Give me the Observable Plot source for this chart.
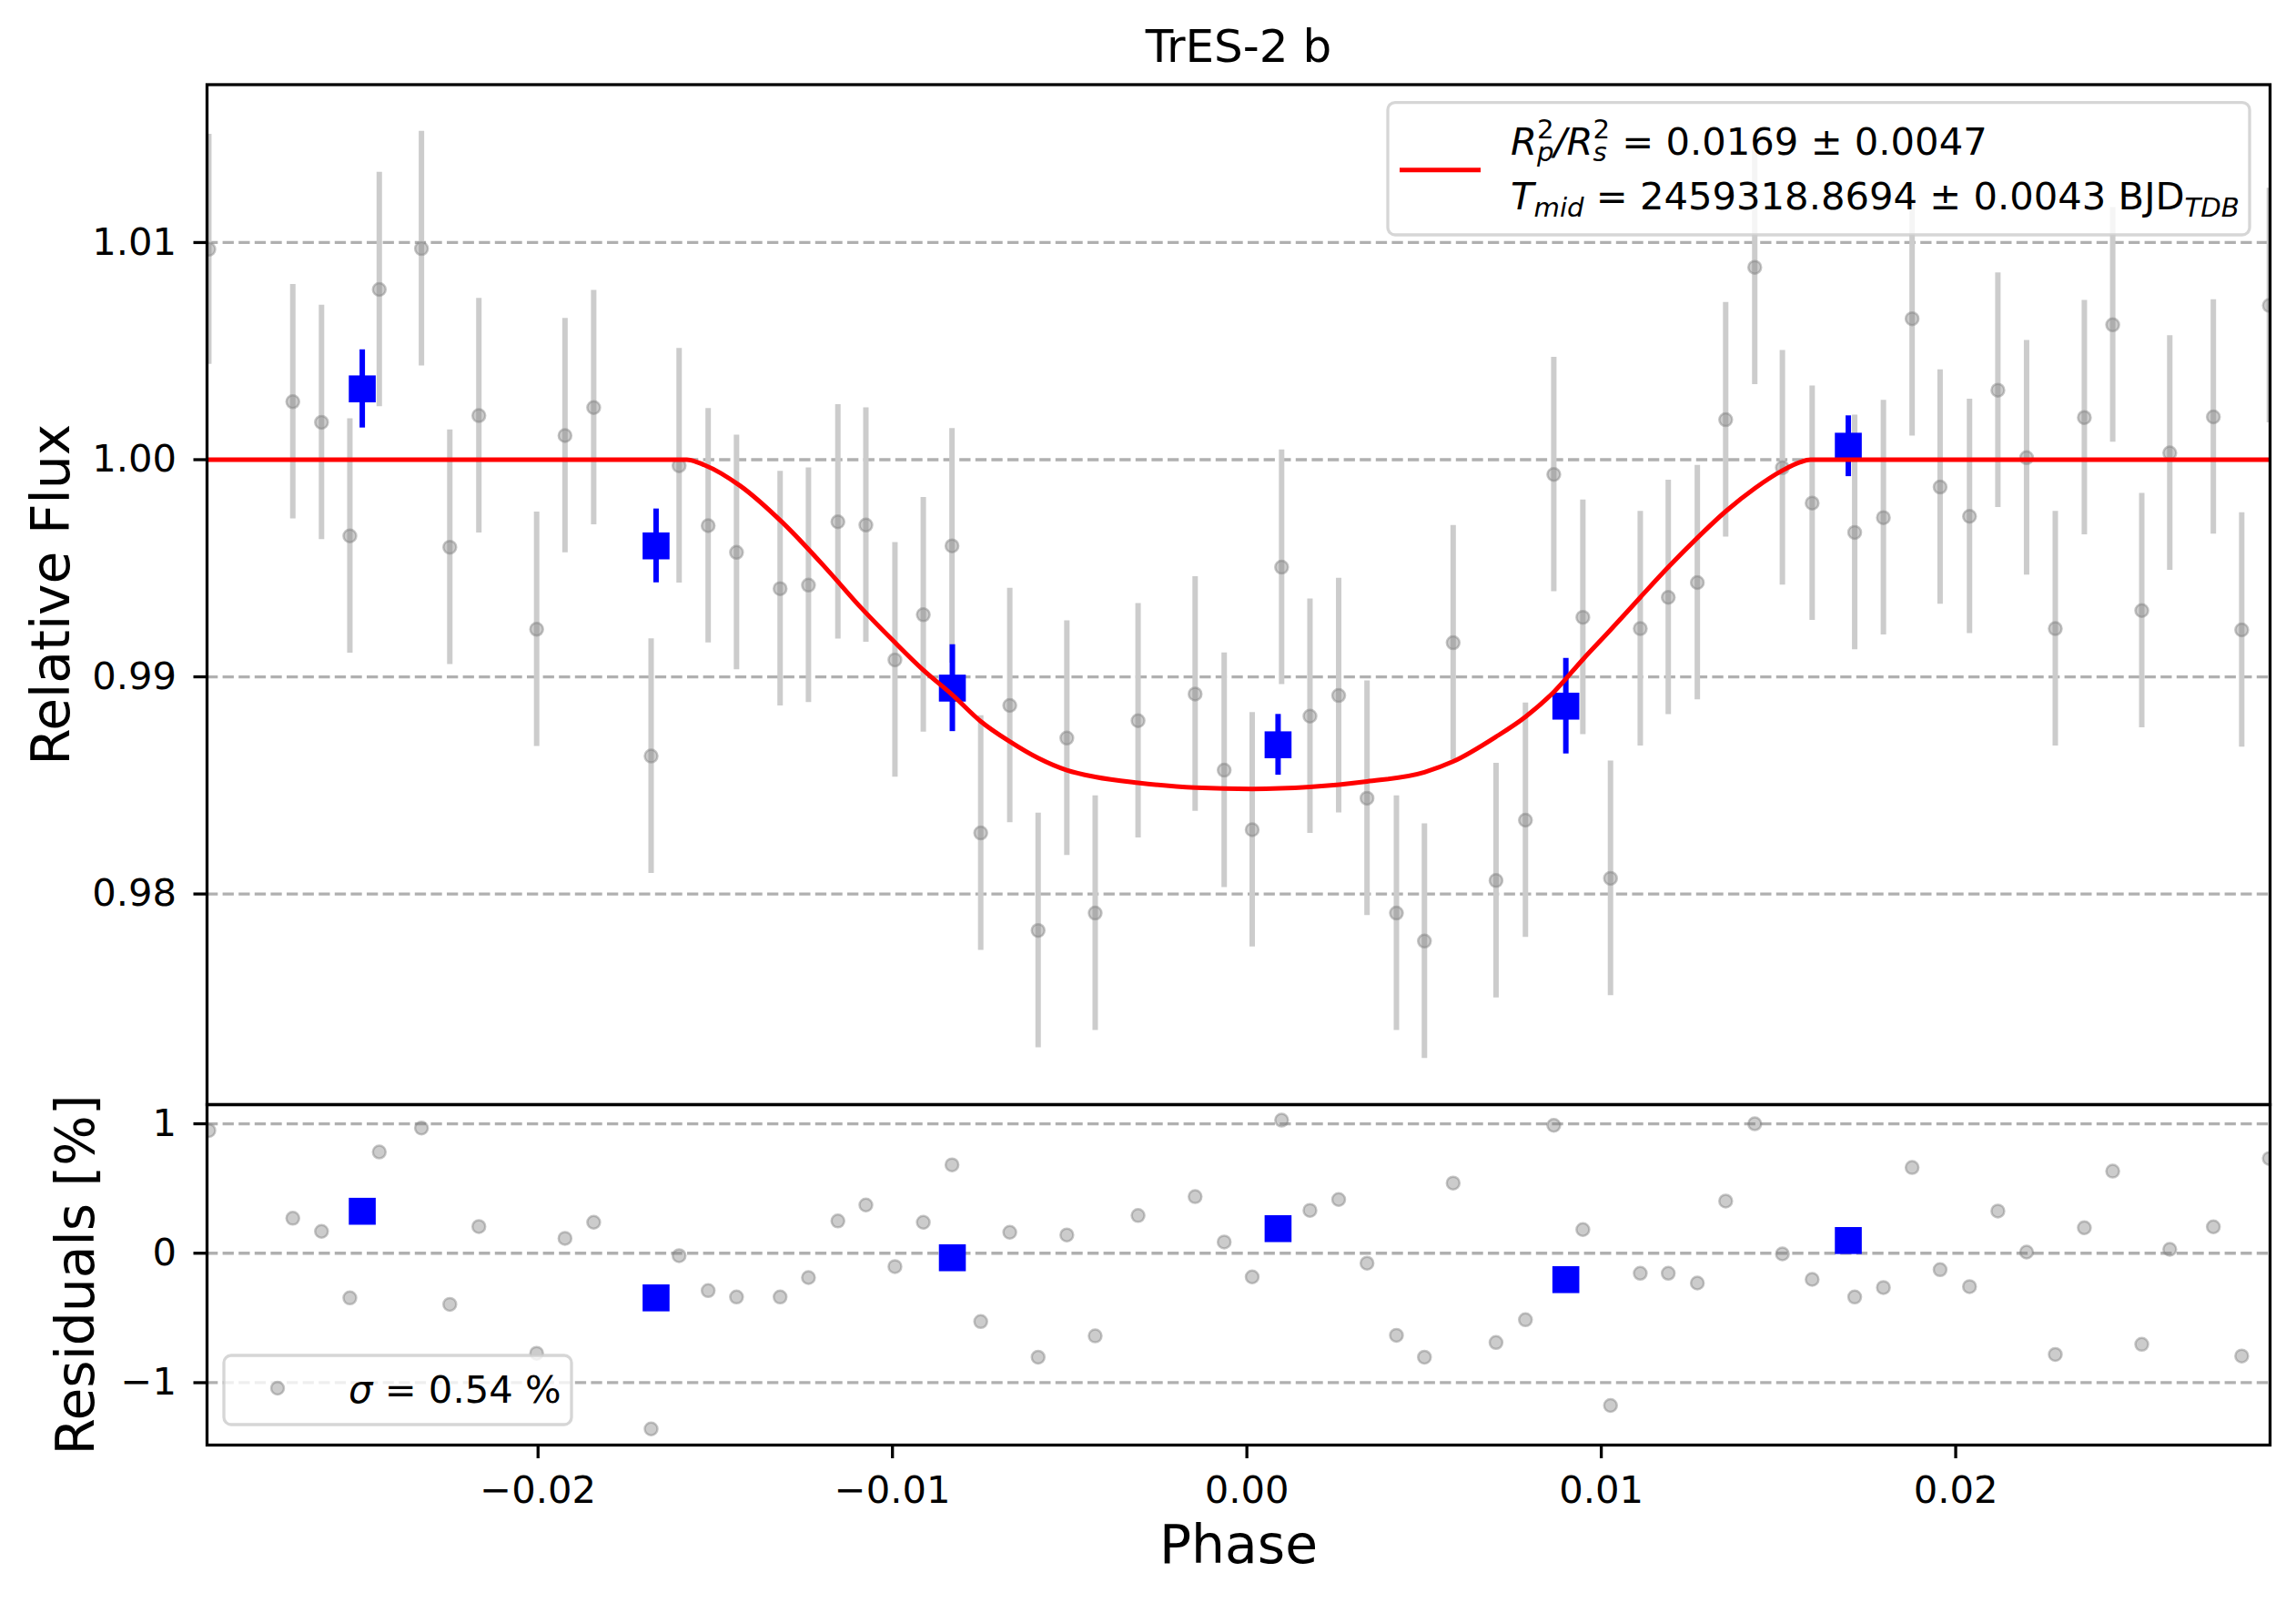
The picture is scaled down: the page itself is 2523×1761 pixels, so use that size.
<!DOCTYPE html>
<html>
<head>
<meta charset="utf-8">
<script src="https://cdn.jsdelivr.net/npm/d3@7"></script>
<script src="https://cdn.jsdelivr.net/npm/@observablehq/plot@0.6"></script>
<style>
  html, body { margin: 0; padding: 0; background: white; }
  #fig { position: relative; width: 2523px; height: 1761px; font-family: "DejaVu Sans", sans-serif; }
  #fig svg.plot-panel { display: block; overflow: visible; position: relative; }
  #overlay { position: absolute; left: 0; top: 0; pointer-events: none; }
</style>
</head>
<body>
<div id="fig"></div>
<script>
// ---------- data ----------
const phase = [
  -0.02929, -0.02692, -0.02611, -0.02531, -0.02448, -0.02329, -0.02249, -0.02167, -0.02004, -0.01924,
  -0.01843, -0.01681, -0.01602, -0.01520, -0.01440, -0.01317, -0.01237, -0.01154, -0.01075, -0.00993,
  -0.00913, -0.00832, -0.00751, -0.00669, -0.00589, -0.00508, -0.00428, -0.00307, -0.00146, -0.00064,
   0.00015,  0.00098,  0.00178,  0.00259,  0.00339,  0.00422,  0.00501,  0.00582,  0.00703,  0.00786,
   0.00866,  0.00948,  0.01026,  0.01110,  0.01189,  0.01271,  0.01351,  0.01433,  0.01511,  0.01595,
   0.01715,  0.01796,  0.01877,  0.01956,  0.02039,  0.02119,  0.02200,  0.02281,  0.02363,  0.02443,
   0.02525,  0.02604,  0.02727,  0.02807,  0.02885
];
const flux = [
  1.00969, 1.00267, 1.00172, 0.99649, 1.00784, 1.00972, 0.99597, 1.00203, 0.99219, 1.00111,
  1.00240, 0.98635, 0.99972, 0.99696, 0.99573, 0.99406, 0.99422, 0.99714, 0.99699, 0.99078,
  0.99286, 0.99603, 0.98281, 0.98868, 0.97832, 0.98718, 0.97912, 0.98798, 0.98921, 0.98570,
  0.98296, 0.99505, 0.98819, 0.98914, 0.98441, 0.97912, 0.97783, 0.99157, 0.98062, 0.98340,
  0.99932, 0.99274, 0.98072, 0.99222, 0.99366, 0.99434, 1.00184, 1.00886, 0.99963, 0.99800,
  0.99665, 0.99733, 1.00649, 0.99874, 0.99739, 1.00320, 1.00009, 0.99222, 1.00194, 1.00621,
  0.99305, 1.00031, 1.00197, 0.99216, 1.00710
];
const fluxErr = [
  0.0053, 0.0054, 0.0054, 0.0054, 0.0054, 0.0054, 0.0054, 0.0054, 0.0054, 0.0054,
  0.0054, 0.0054, 0.0054, 0.0054, 0.0054, 0.0054, 0.0054, 0.0054, 0.0054, 0.0054,
  0.0054, 0.0054, 0.0054, 0.0054, 0.0054, 0.0054, 0.0054, 0.0054, 0.0054, 0.0054,
  0.0054, 0.0054, 0.0054, 0.0054, 0.0054, 0.0054, 0.0054, 0.0054, 0.0054, 0.0054,
  0.0054, 0.0054, 0.0054, 0.0054, 0.0054, 0.0054, 0.0054, 0.0054, 0.0054, 0.0054,
  0.0054, 0.0054, 0.0054, 0.0054, 0.0054, 0.0054, 0.0054, 0.0054, 0.0054, 0.0054,
  0.0054, 0.0054, 0.0054, 0.0054, 0.0054
];
const residual = [
   0.948,  0.270,  0.169, -0.345,  0.782,  0.967, -0.395,  0.206, -0.773,  0.115,
   0.239, -1.357, -0.019, -0.289, -0.338, -0.338, -0.188,  0.249,  0.373, -0.103,
   0.239,  0.683, -0.528,  0.162, -0.803,  0.141, -0.639,  0.291,  0.437,  0.087,
  -0.183,  1.028,  0.331,  0.415, -0.077, -0.634, -0.803,  0.542, -0.690, -0.514,
   0.988,  0.183, -1.176, -0.155, -0.155, -0.230,  0.403,  1.000, -0.005, -0.202,
  -0.338, -0.265,  0.662, -0.127, -0.258,  0.326,  0.009, -0.782,  0.197,  0.634,
  -0.704,  0.030,  0.204, -0.794,  0.732
];

const binPhase    = [-0.02496, -0.01667, -0.00831, 0.00088, 0.00900, 0.01697];
const binFlux     = [ 1.00326,  0.99603,  0.98948, 0.98687, 0.98865, 1.00062];
const binErr      = [ 0.0018,   0.0017,   0.0020,  0.0014,  0.0022,  0.0014];
const binResidual = [ 0.324,   -0.345,   -0.035,   0.190,  -0.204,   0.098];

const modelPhase = [
  -0.0294, -0.0158, -0.0153, -0.0143, -0.0131, -0.0118, -0.01088, -0.00993, -0.00913, -0.00831,
  -0.00751, -0.00669, -0.00589, -0.00508, -0.00428, -0.00307, -0.00146, 0.00015, 0.00178, 0.00339,
   0.00501, 0.00582, 0.00703, 0.00786, 0.00866, 0.00948, 0.01026, 0.01110, 0.01189, 0.01271,
   0.01351, 0.01433, 0.01511, 0.01560, 0.0159, 0.0289
];
const modelFlux = [
  1.0000, 1.0000, 0.99975, 0.99880, 0.99710, 0.99486, 0.99317, 0.99158, 0.99031, 0.98917,
  0.98795, 0.98702, 0.98626, 0.98570, 0.98539, 0.98512, 0.98490, 0.98484, 0.98493, 0.98518,
  0.98561, 0.98610, 0.98724, 0.98816, 0.98930, 0.99080, 0.99216, 0.99366, 0.99505, 0.99640,
  0.99762, 0.99868, 0.99950, 0.99988, 1.0000, 1.0000
];

const fluxTicks = [0.98, 0.99, 1.00, 1.01];
const residualTicks = [-1, 0, 1];
const phaseTicks = [-0.02, -0.01, 0.00, 0.01, 0.02];

const titleText = "TrES-2 b";
const fluxLabel = "Relative Flux";
const residualLabel = "Residuals [%]";
const phaseLabel = "Phase";

// ---------- tables ----------
const points = phase.map((p, i) => ({phase: p, flux: flux[i], err: fluxErr[i], res: residual[i]}));
const bins = binPhase.map((p, i) => ({phase: p, flux: binFlux[i], err: binErr[i], res: binResidual[i]}));
const model = modelPhase.map((p, i) => ({phase: p, flux: modelFlux[i]}));

// ---------- styling ----------
const W = 2523;
const xDomain = [-0.02934, 0.02887];
const FONT = "DejaVu Sans";
const tickFont = 41.7;
const labelFont = 58.3;
const frameW = 3.3;
const gridStyle = {stroke: "#b0b0b0", strokeOpacity: 1, strokeWidth: 3.3, strokeDasharray: "12.3,5.3"};
const greyDot = {r: 7, fill: "#808080", fillOpacity: 0.4, stroke: "#808080", strokeOpacity: 0.45, strokeWidth: 2.5, clip: true};

const topPlot = Plot.plot({
  width: W, height: 1213,
  marginLeft: 227, marginRight: 29, marginTop: 92.5, marginBottom: 0,
  style: {fontFamily: FONT, background: "white", color: "black", overflow: "visible"},
  x: {domain: xDomain, axis: null},
  y: {domain: [0.9703, 1.01727]},
  marks: [
    Plot.gridY(fluxTicks, gridStyle),
    Plot.ruleX(points, {x: "phase", y1: d => d.flux - d.err, y2: d => d.flux + d.err, stroke: "#cccccc", strokeWidth: 6, clip: true}),
    Plot.dot(points, {x: "phase", y: "flux", ...greyDot}),
    Plot.ruleX(bins, {x: "phase", y1: d => d.flux - d.err, y2: d => d.flux + d.err, stroke: "#0000ff", strokeWidth: 6, clip: true}),
    Plot.dot(bins, {x: "phase", y: "flux", symbol: "square", r: 16.7, fill: "#0000ff", stroke: "none", clip: true}),
    Plot.line(model, {x: "phase", y: "flux", stroke: "#ff0000", strokeWidth: 5, curve: "monotone-x", clip: true}),
    Plot.frame({stroke: "black", strokeWidth: frameW}),
    Plot.axisY(fluxTicks, {anchor: "left", tickSize: 14.5, tickPadding: 19, tickFormat: d3.format(".2f"), fontSize: tickFont, strokeWidth: frameW, label: null, color: "black"}),
    Plot.text([titleText], {text: d => d, frameAnchor: "top", dy: -25, lineAnchor: "bottom", fontSize: 50, fill: "black"}),
    Plot.text([fluxLabel], {text: d => d, frameAnchor: "left", dx: -152, rotate: -90, lineAnchor: "bottom", textAnchor: "middle", fontSize: labelFont, fill: "black"})
  ]
});
topPlot.classList.add("plot-panel");

const bottomPlot = Plot.plot({
  width: W, height: 548,
  marginLeft: 227, marginRight: 29, marginTop: 0, marginBottom: 174,
  style: {fontFamily: FONT, background: "transparent", color: "black", overflow: "visible"},
  x: {domain: xDomain},
  y: {domain: [-1.482, 1.148]},
  marks: [
    Plot.gridY(residualTicks, gridStyle),
    Plot.dot(points, {x: "phase", y: "res", ...greyDot}),
    Plot.dot(bins, {x: "phase", y: "res", symbol: "square", r: 16.7, fill: "#0000ff", stroke: "none", clip: true}),
    Plot.frame({stroke: "black", strokeWidth: frameW}),
    Plot.axisY(residualTicks, {anchor: "left", tickSize: 14.5, tickPadding: 19, tickFormat: d3.format("d"), fontSize: tickFont, strokeWidth: frameW, label: null, color: "black"}),
    Plot.axisX(phaseTicks, {anchor: "bottom", tickSize: 15, tickPadding: 18.4, tickFormat: d3.format(".2f"), fontSize: tickFont, strokeWidth: frameW, label: null, color: "black"}),
    Plot.text([residualLabel], {text: d => d, frameAnchor: "left", dx: -125, rotate: -90, lineAnchor: "bottom", textAnchor: "middle", fontSize: labelFont, fill: "black"}),
    Plot.text([phaseLabel], {text: d => d, frameAnchor: "bottom", dy: 129, lineAnchor: "bottom", fontSize: labelFont, fill: "black"})
  ]
});
bottomPlot.classList.add("plot-panel");

const fig = document.getElementById("fig");
fig.appendChild(topPlot);
fig.appendChild(bottomPlot);

// ---------- legends (overlay) ----------
const NS = "http://www.w3.org/2000/svg";
const ov = document.createElementNS(NS, "svg");
ov.setAttribute("id", "overlay");
ov.setAttribute("width", W);
ov.setAttribute("height", 1761);
ov.setAttribute("font-family", FONT);
ov.innerHTML = `
  <rect x="1525" y="112.6" width="947" height="145.4" rx="8" ry="8" fill="white" fill-opacity="0.8" stroke="#cccccc" stroke-opacity="0.8" stroke-width="3.3"/>
  <line x1="1538" x2="1627" y1="186.7" y2="186.7" stroke="#ff0000" stroke-width="5"/>
  <text x="1660" y="170" font-size="41.7" fill="black"><tspan font-style="italic">R</tspan><tspan font-size="29.2" dy="-18">2</tspan><tspan font-size="29.2" font-style="italic" dx="-18.6" dy="25">p</tspan><tspan font-style="italic" dy="-7">/R</tspan><tspan font-size="29.2" dy="-18">2</tspan><tspan font-size="29.2" font-style="italic" dx="-18.6" dy="25">s</tspan><tspan dx="3.4" dy="-7"> = 0.0169 ± 0.0047</tspan></text>
  <text x="1660" y="230" font-size="41.7" fill="black"><tspan font-style="italic">T</tspan><tspan font-size="29.2" font-style="italic" dy="8">mid</tspan><tspan dy="-8"> = 2459318.8694 ± 0.0043 BJD</tspan><tspan font-size="29.2" font-style="italic" dy="8">TDB</tspan></text>
  <rect x="246" y="1489" width="382" height="76" rx="8" ry="8" fill="white" fill-opacity="0.8" stroke="#cccccc" stroke-opacity="0.8" stroke-width="3.3"/>
  <circle cx="305" cy="1525" r="7" fill="#808080" fill-opacity="0.4" stroke="#808080" stroke-opacity="0.45" stroke-width="2.5"/>
  <text x="383" y="1541" font-size="41.7" fill="black"><tspan font-style="italic">σ</tspan> = 0.54 %</text>
`;
fig.appendChild(ov);
</script>
</body>
</html>
